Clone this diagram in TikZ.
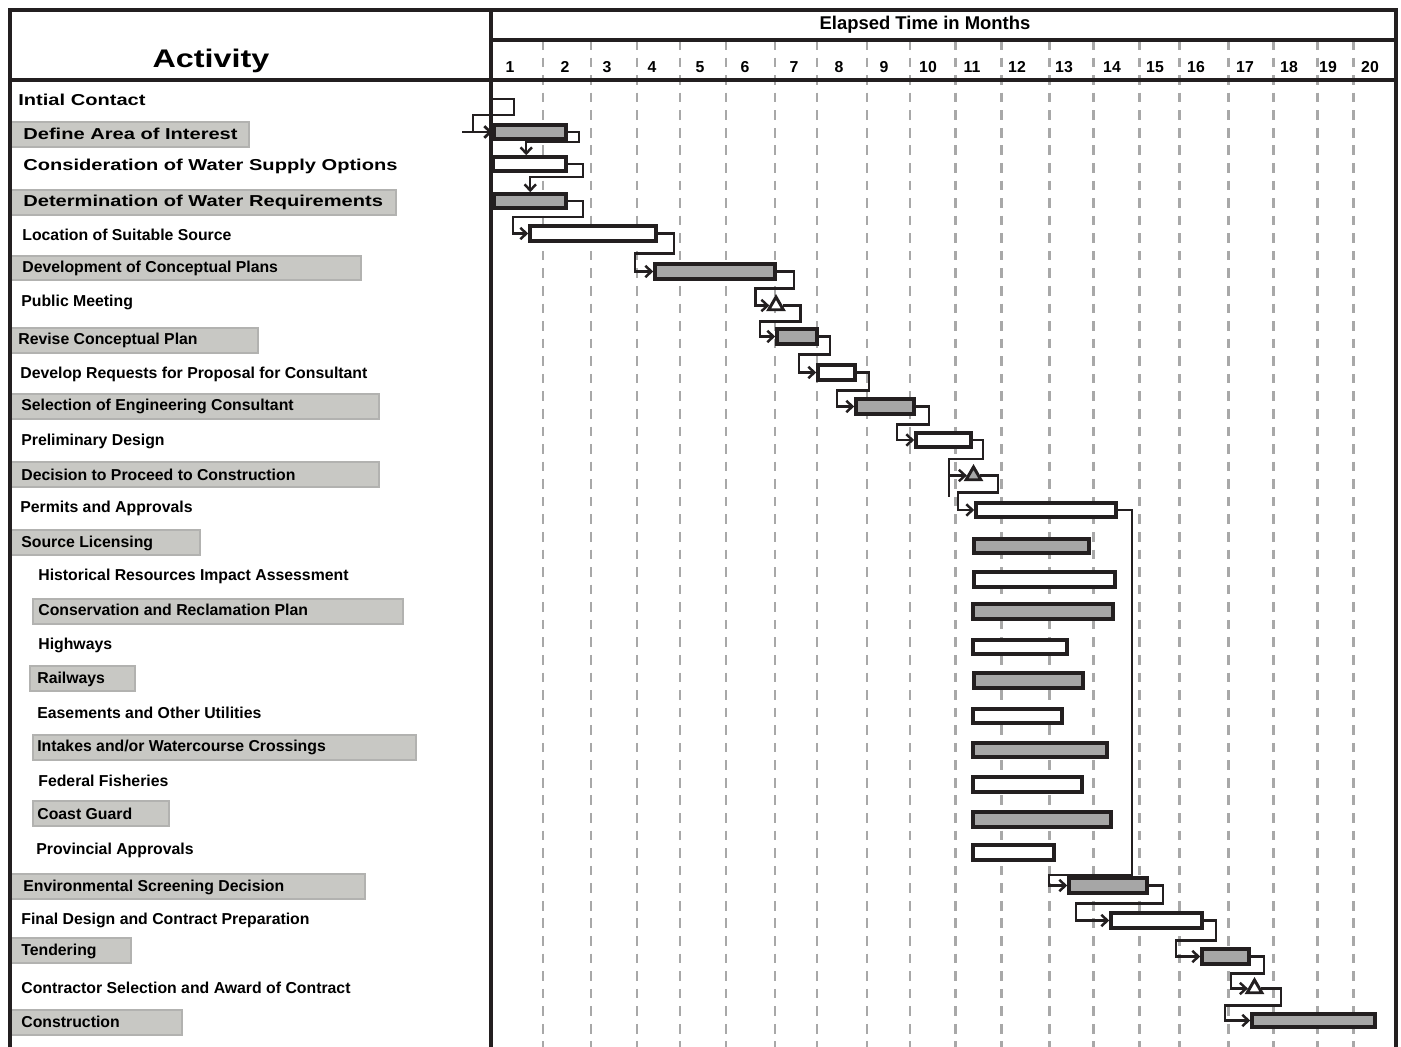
\documentclass[tikz,border=0pt]{standalone}
\usepackage{fontspec}
\setmainfont{Liberation Sans}
\newfontfamily\widefont{Liberation Sans}[FakeStretch=1.27]
\usetikzlibrary{shapes.geometric, arrows.meta, calc, fit}
\definecolor{ink}{HTML}{231F20}
\definecolor{bargray}{HTML}{A6A6A6}
\definecolor{boxgray}{HTML}{C8C8C4}
\definecolor{boxedge}{HTML}{B2B2B0}
\definecolor{gridgray}{HTML}{A8A8A8}

\begin{document}
\begin{tikzpicture}[x=0.02cm, y=-0.02cm,
    frame/.style={draw=ink, line width=2pt},
    grid/.style={draw=gridgray, line width=1.7pt, dash pattern=on 5.5pt off 4.5pt},
    bar/.style={draw=ink, line width=2pt, inner sep=0pt},
    gbar/.style={bar, fill=bargray},
    wbar/.style={bar, fill=white},
    mstone/.style={draw=ink, line width=1.7pt, regular polygon, regular polygon sides=3, minimum size=0.34cm, inner sep=0pt},
    link/.style={draw=ink, line width=1.4pt, -{Straight Barb[length=3.5pt,width=6.5pt]}},
    hl/.style={fill=boxgray, draw=boxedge, line width=0.6pt, inner sep=0pt},
    lbl/.style={anchor=west, inner sep=0pt, font=\fontsize{9}{10}\selectfont\bfseries},
    wlbl/.style={anchor=west, inner sep=0pt, font=\widefont\fontsize{9}{10}\selectfont\bfseries},
    month/.style={inner sep=0pt, font=\fontsize{9}{10}\selectfont\bfseries}]
    \useasboundingbox (0,0) rectangle (1401,1047);

    % shaded label boxes
    \foreach \n/\xa/\ya/\xb/\yb in {2/10/122/249/147, 4/10/190/396/215, 6/10/256/361/280,
        8/10/328/258/353, 10/10/394/379/419, 12/10/462/379/487, 14/10/530/200/555,
        16/33/599/403/624, 18/30/666/135/691, 20/33/735/416/760, 22/33/801/169/826,
        24/10/874/365/899, 26/10/938/131/963, 28/10/1010/182/1035}
    {
        \node [hl, fit = {(\xa,\ya) (\xb,\yb)}] (h\n) {};
    }

    % month grid
    \foreach \x in {543, 591, 637, 680, 726, 775, 817, 867, 910, 955, 1001, 1049, 1093, 1139, 1179, 1228, 1273, 1317, 1353}
    {
        \draw [grid] (\x,40) -- (\x,1047);
    }

    \draw [frame] (10,1047) -- (10,10) -- (1396,10) -- (1396,1047);
    \draw [frame] (491,10) -- (491,1047);
    \draw [frame] (10,80) -- (1396,80);
    \draw [frame] (491,40) -- (1396,40);

    \node [font=\widefont\fontsize{14.5}{16}\selectfont\bfseries] (activity) at (211,61) {Activity};
    \node [font=\fontsize{10.5}{12}\selectfont\bfseries] (elapsed) at (925,25) {Elapsed Time in Months};

    \foreach \m/\x in {1/510, 2/565, 3/607, 4/652, 5/700, 6/745, 7/794, 8/839, 9/884, 10/928,
        11/972, 12/1017, 13/1064, 14/1112, 15/1155, 16/1196, 17/1245, 18/1289, 19/1328, 20/1370}
    {
        \node [month] (mon\m) at (\x,67) {\m};
    }

    % activity labels
    \node [wlbl] (a1) at (18,100) {Intial Contact};
    \node [wlbl] (a2) at (23,134) {Define Area of Interest};
    \node [wlbl] (a3) at (23,166) {Consideration of Water Supply Options};
    \node [wlbl] (a4) at (23,202) {Determination of Water Requirements};
    \node [lbl] (a5) at (22,235) {Location of Suitable Source};
    \node [lbl] (a6) at (22,268) {Development of Conceptual Plans};
    \node [lbl] (a7) at (21,302) {Public Meeting};
    \node [lbl] (a8) at (18,340) {Revise Conceptual Plan};
    \node [lbl] (a9) at (20,374) {Develop Requests for Proposal for Consultant};
    \node [lbl] (a10) at (21,406) {Selection of Engineering Consultant};
    \node [lbl] (a11) at (21,441) {Preliminary Design};
    \node [lbl] (a12) at (21,475) {Decision to Proceed to Construction};
    \node [lbl] (a13) at (20,508) {Permits and Approvals};
    \node [lbl] (a14) at (21,543) {Source Licensing};
    \node [lbl] (a15) at (38,576) {Historical Resources Impact Assessment};
    \node [lbl] (a16) at (38,610) {Conservation and Reclamation Plan};
    \node [lbl] (a17) at (38,645) {Highways};
    \node [lbl] (a18) at (37,679) {Railways};
    \node [lbl] (a19) at (37,713) {Easements and Other Utilities};
    \node [lbl] (a20) at (37,747) {Intakes and/or Watercourse Crossings};
    \node [lbl] (a21) at (38,781) {Federal Fisheries};
    \node [lbl] (a22) at (37,814) {Coast Guard};
    \node [lbl] (a23) at (36,850) {Provincial Approvals};
    \node [lbl] (a24) at (23,887) {Environmental Screening Decision};
    \node [lbl] (a25) at (21,920) {Final Design and Contract Preparation};
    \node [lbl] (a26) at (21,951) {Tendering};
    \node [lbl] (a27) at (21,988) {Contractor Selection and Award of Contract};
    \node [lbl] (a28) at (21,1022) {Construction};

    % bars
    \foreach \n/\xa/\ya/\xb/\yb/\s in {2/494/125/566/139/gbar, 3/493/157/566/171/wbar,
        4/494/194/566/208/gbar, 5/530/226/656/241/wbar, 6/655/264/775/279/gbar,
        8/777/329/817/344/gbar, 9/818/365/855/380/wbar, 10/856/399/914/414/gbar,
        11/916/433/971/447/wbar, 13/976/503/1116/517/wbar, 14/974/539/1089/553/gbar,
        15/974/572/1115/587/wbar, 16/973/604/1113/619/gbar, 17/973/640/1067/654/wbar,
        18/974/673/1083/688/gbar, 19/973/709/1062/723/wbar, 20/973/743/1107/757/gbar,
        21/973/777/1082/792/wbar, 22/973/812/1111/827/gbar, 23/973/845/1054/860/wbar,
        24/1069/878/1147/893/gbar, 25/1111/913/1202/928/wbar, 26/1202/949/1249/964/gbar,
        28/1252/1014/1375/1027/gbar}
    {
        \node [\s, fit = {(\xa,\ya) (\xb,\yb)}] (b\n) {};
    }

    % milestones
    \node [mstone, fill=white] (m7) at (776,305.5) {};
    \node [mstone, fill=bargray] (m12) at (973.5,475.5) {};
    \node [mstone, fill=white] (m27) at (1254.5,988.5) {};

    % links
    \coordinate (start) at (491,99);
    \coordinate (lead) at (462,132);
    \draw [link] (lead) -- (b2.west);
    \draw [link] (start) -- ++(23,0) -- ++(0,16) -| ($(b2.west)+(-19,0)$) -- (b2.west);
    \draw [link] (b2.east) -- ++(11,0) -- ++(0,10) -| ($(b3.north west)+(35,0)$);
    \draw [link] (b3.east) -- ++(15,0) -- ++(0,13) -| ($(b4.north west)+(38,0)$);

    \foreach \a/\b/\o/\d/\k in {b4/b5/15/16/15, b5/b6/16/20/18, b6/m7/17/17/14, m7/b8/18/16/15,
        b8/b9/11/18/17, b9/b10/12/18/17, b10/b11/13/18/17, b11/m12/10/19/18, m12/b13/18/17/16,
        b13/b24/14/365/18, b24/b25/14/18/33, b25/b26/12/20/24, b26/m27/13/17/17, m27/b28/20/17/25}
    {
        \draw [link] (\a.east) -- ++(\o,0) -- ++(0,\d) -| ($(\b.west)+(-\k,0)$) -- (\b.west);
    }
    \draw [ink, line width=1.4pt] ($(m12.west)+(-18,0)$) -- ++(0,22);
\end{tikzpicture}
\end{document}
